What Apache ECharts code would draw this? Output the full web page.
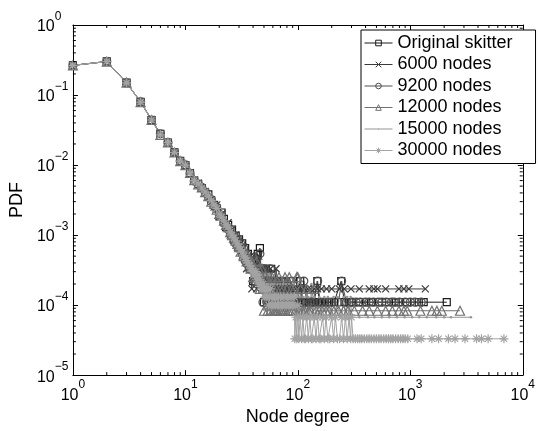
<!DOCTYPE html>
<html><head><meta charset="utf-8">
<script src="https://cdn.jsdelivr.net/npm/echarts@6/dist/echarts.min.js"></script>
<style>html,body{margin:0;padding:0;background:#fff}#c{width:538px;height:431px}</style>
</head><body><div id="c"></div>
<script>
const seriesNames = ['Original skitter','6000 nodes','9200 nodes','12000 nodes','15000 nodes','30000 nodes'];

const origSkitter = [[1,0.265],[2,0.302],[3,0.150],[4,0.080],[5,0.044],[6,0.028],[7,0.021],[8,0.0152],[9,0.0115],[10,0.0100],[11,0.0077],[12,0.0060],[13,0.0054],[14,0.0047],[15,0.0040],[16,0.0038],[17,0.0031],[18,0.0027],[19,0.0024],[20,0.0019],[21,0.0021],[22,0.0017],[23,0.0013],[24,0.0014],[25,0.0011],[26,0.0012],[27,0.00087],[28,0.00098],[29,0.00076],[30,0.00087],[31,0.00065],[32,0.00076],[33,0.00054],[34,0.00065],[35,0.00043],[36,0.00054],[37,0.00043],[38,0.00033],[39,0.00043],[40,0.00022],[41,0.00033],[42,0.00043],[43,0.00033],[44,0.00054],[45,0.00033],[46,0.00065],[47,0.00033],[48,0.00022],[49,0.00033],[50,0.00011],[51,0.00022],[52,0.00033],[53,0.00022],[55,0.00011],[56,0.00022],[58,0.00033],[60,0.00011],[62,0.00022],[63,0.00011],[65,0.00022],[67,0.00011],[68,0.00022],[70,0.00011],[72,0.00022],[75,0.00011],[77,0.00022],[80,0.00011],[83,0.00011],[86,0.00022],[90,0.00011],[95,0.00011],[100,0.00011],[105,0.00022],[110,0.00011],[118,0.00011],[125,0.00011],[132,0.00011],[140,0.00011],[149,0.00022],[155,0.00011],[165,0.00011],[175,0.00011],[190,0.00011],[210,0.00011],[243,0.00022],[260,0.00011],[287,0.00011],[300,0.00011],[352,0.00011],[403,0.00011],[446,0.00011],[527,0.00011],[647,0.00011],[741,0.00011],[792,0.00011],[938,0.00011],[1188,0.00011],[1315,0.00011],[2110,0.00011]];

const nodes6000 = [[1,0.266],[2,0.300],[3,0.148],[4,0.079],[5,0.045],[6,0.027],[7,0.021],[8,0.0150],[9,0.0113],[10,0.0099],[11,0.0078],[12,0.0061],[13,0.0055],[14,0.0047],[15,0.0042],[16,0.0035],[17,0.0032],[18,0.0025],[19,0.0027],[20,0.0018],[21,0.0020],[22,0.0015],[23,0.0013],[24,0.0015],[25,0.0010],[26,0.0012],[27,0.00083],[28,0.0010],[29,0.00067],[30,0.00083],[31,0.00067],[32,0.0005],[33,0.00067],[34,0.0005],[35,0.00033],[36,0.0005],[37,0.00033],[38,0.0005],[39,0.00017],[40,0.00033],[41,0.0005],[42,0.00033],[43,0.00017],[44,0.00033],[45,0.0005],[46,0.00033],[48,0.00017],[49,0.00033],[50,0.00017],[52,0.00033],[53,0.00017],[55,0.00017],[57,0.00033],[58,0.00017],[60,0.00017],[62,0.00017],[64,0.00033],[66,0.00017],[69,0.00017],[71,0.00017],[74,0.00017],[78,0.00017],[82,0.00017],[85,0.00017],[90,0.00017],[96,0.00017],[102,0.00017],[108,0.00017],[115,0.00017],[123,0.00017],[130,0.00017],[140,0.00017],[150,0.00017],[162,0.00017],[180,0.00017],[200,0.00017],[234,0.00017],[259,0.00017],[297,0.00017],[352,0.00017],[431,0.00017],[475,0.00017],[510,0.00017],[604,0.00017],[792,0.00017],[877,0.00017],[971,0.00017],[1360,0.00017]];

const nodes9200 = [[1,0.264],[2,0.301],[3,0.149],[4,0.080],[5,0.044],[6,0.028],[7,0.021],[8,0.0151],[9,0.0114],[10,0.0101],[11,0.0076],[12,0.0059],[13,0.0053],[14,0.0048],[15,0.0041],[16,0.0035],[17,0.0032],[18,0.0026],[19,0.0025],[20,0.0020],[21,0.0019],[22,0.0015],[23,0.0014],[24,0.0012],[25,0.0012],[26,0.00098],[27,0.00098],[28,0.00076],[29,0.00087],[30,0.00065],[31,0.00076],[32,0.00054],[33,0.00065],[34,0.00043],[35,0.00054],[36,0.00043],[37,0.00033],[38,0.00043],[39,0.00033],[40,0.00043],[41,0.00022],[42,0.00033],[43,0.00043],[44,0.00022],[45,0.00033],[46,0.00054],[47,0.00022],[48,0.00033],[49,0.00011],[50,0.00022],[51,0.00033],[53,0.00011],[54,0.00022],[56,0.00011],[57,0.00033],[59,0.00022],[61,0.00011],[62,0.00022],[64,0.00011],[66,0.00022],[69,0.00011],[71,0.00022],[73,0.00011],[76,0.00011],[79,0.00022],[82,0.00011],[85,0.00011],[88,0.00022],[92,0.00011],[97,0.00011],[102,0.00011],[107,0.00011],[113,0.00022],[120,0.00011],[128,0.00011],[136,0.00011],[150,0.00022],[158,0.00011],[170,0.00011],[185,0.00011],[200,0.00011],[230,0.00011],[245,0.00022],[270,0.00011],[305,0.00011],[330,0.00011],[360,0.00011],[398,0.00011],[430,0.00011],[470,0.00011],[520,0.00011],[560,0.00011],[610,0.00011],[680,0.00011],[720,0.00011],[800,0.00011],[900,0.00011],[1000,0.00011],[1100,0.00011],[1250,0.00011]];

const nodes12000 = [[1,0.265],[2,0.300],[3,0.150],[4,0.079],[5,0.044],[6,0.027],[7,0.021],[8,0.0151],[9,0.0114],[10,0.0100],[11,0.0077],[12,0.0061],[13,0.0053],[14,0.0048],[15,0.0041],[16,0.0036],[17,0.0030],[18,0.0028],[19,0.0023],[20,0.0020],[21,0.0019],[22,0.0016],[23,0.0014],[24,0.0013],[25,0.0011],[26,0.0010],[27,0.00092],[28,0.00083],[29,0.00075],[30,0.00067],[31,0.00058],[32,0.00067],[33,0.0005],[34,0.00058],[35,0.00042],[36,0.0005],[37,0.00042],[38,0.00033],[39,0.00042],[40,0.00025],[41,0.00033],[42,0.00025],[43,0.00042],[44,0.00025],[45,0.00033],[46,0.00017],[47,0.00025],[48,0.00033],[49,0.00017],[50,0.000083],[51,0.00025],[52,0.00017],[53,0.00025],[54,0.000083],[55,0.00017],[56,0.00025],[57,0.000083],[58,0.00017],[59,0.00025],[60,0.000083],[61,0.00017],[62,0.000083],[63,0.00025],[64,0.000083],[65,0.00017],[66,0.000083],[68,0.00025],[69,0.000083],[70,0.00017],[72,0.000083],[74,0.00017],[75,0.000083],[77,0.00025],[78,0.000083],[80,0.00017],[82,0.000083],[84,0.00025],[85,0.000083],[88,0.00017],[90,0.000083],[93,0.00017],[95,0.000083],[98,0.00025],[100,0.00025],[103,0.000083],[106,0.00017],[110,0.000083],[115,0.000083],[120,0.00017],[125,0.000083],[130,0.000083],[138,0.00017],[145,0.000083],[155,0.000083],[165,0.000083],[178,0.000083],[190,0.000083],[210,0.000083],[230,0.000083],[255,0.000083],[280,0.000083],[318,0.000083],[376,0.000083],[431,0.000083],[510,0.000083],[604,0.000083],[692,0.000083],[792,0.000083],[877,0.000083],[938,0.000083],[1230,0.000083],[1556,0.000083],[1722,0.000083],[1906,0.000083],[2768,0.000083]];

const nodes15000 = [[1,0.265],[2,0.301],[3,0.149],[4,0.080],[5,0.044],[6,0.027],[7,0.021],[8,0.0150],[9,0.0115],[10,0.0100],[11,0.0077],[12,0.0060],[13,0.0055],[14,0.0046],[15,0.0041],[16,0.0036],[17,0.0031],[18,0.0027],[19,0.0024],[20,0.0020],[21,0.0018],[22,0.0016],[23,0.0014],[24,0.0013],[25,0.0011],[26,0.0010],[27,0.00093],[28,0.00087],[29,0.00073],[30,0.00067],[31,0.0006],[32,0.00053],[33,0.0006],[34,0.00047],[35,0.0004],[36,0.00047],[37,0.0004],[38,0.00033],[39,0.0004],[40,0.00033],[41,0.00027],[42,0.00033],[43,0.00027],[44,0.0002],[45,0.00027],[46,0.0002],[47,0.00027],[48,0.0002],[49,0.00013],[50,0.0002],[51,0.00027],[52,0.00013],[53,0.0002],[54,0.00013],[55,0.0002],[56,0.00027],[57,0.00013],[58,0.0002],[59,0.00013],[60,0.0002],[61,0.00013],[62,0.0002],[63,0.00013],[65,0.00013],[66,0.0002],[67,0.00013],[68,0.00013],[70,0.0002],[71,0.00013],[72,0.00013],[74,0.0002],[75,0.00013],[77,0.00013],[78,0.0002],[80,0.00013],[82,0.00013],[84,0.0002],[86,0.00013],[88,0.00013],[90,0.00013],[92,0.0002],[94,0.000067],[96,0.00013],[98,0.000067],[100,0.0002],[102,0.000067],[105,0.00013],[108,0.000067],[111,0.00013],[114,0.000067],[117,0.00013],[120,0.000067],[124,0.00013],[128,0.000067],[132,0.0002],[136,0.000067],[140,0.00013],[145,0.000067],[150,0.000067],[155,0.00013],[160,0.000067],[166,0.000067],[172,0.00013],[178,0.000067],[185,0.00013],[192,0.000067],[200,0.000067],[208,0.00013],[216,0.000067],[225,0.00013],[235,0.000067],[245,0.000067],[255,0.00013],[265,0.000067],[275,0.00013],[285,0.000067],[295,0.00013],[300,0.000067],[352,0.000067],[420,0.000067],[480,0.000067],[560,0.000067],[650,0.000067],[760,0.000067],[890,0.000067],[1040,0.000067],[1200,0.000067],[1400,0.000067],[1700,0.000067],[2000,0.000067],[2300,0.000067],[3460,0.000067]];

const nodes30000 = [[1,0.265],[2,0.301],[3,0.149],[4,0.079],[5,0.044],[6,0.027],[7,0.021],[8,0.0151],[9,0.0114],[10,0.0100],[11,0.0077],[12,0.0060],[13,0.0054],[14,0.0047],[15,0.0041],[16,0.0036],[17,0.0031],[18,0.0027],[19,0.0024],[20,0.0020],[21,0.0018],[22,0.0016],[23,0.0014],[24,0.0013],[25,0.0011],[26,0.0010],[27,0.00091],[28,0.00083],[29,0.00075],[30,0.00068],[31,0.00062],[32,0.00057],[33,0.0005],[34,0.00047],[35,0.00043],[36,0.0004],[37,0.00037],[38,0.00033],[39,0.00033],[40,0.0003],[41,0.00027],[42,0.0003],[43,0.00023],[44,0.00027],[45,0.0002],[46,0.00023],[47,0.0002],[48,0.00017],[49,0.0002],[50,0.00017],[51,0.00013],[52,0.00017],[53,0.00013],[54,0.00017],[55,0.0001],[56,0.00013],[57,0.00017],[58,0.0001],[59,0.00013],[60,0.0001],[62,0.00013],[63,0.0001],[64,0.00013],[66,0.0001],[67,0.00013],[68,0.0001],[70,0.00013],[71,0.0001],[73,0.0001],[75,0.00013],[77,0.0001],[79,0.0001],[81,0.00013],[83,0.0001],[85,0.0001],[87,0.00013],[89,0.0001],[91,0.0001],[93,0.00013],[94,0.000033],[96,0.000067],[98,0.000033],[100,0.0001],[102,0.000033],[105,0.000067],[108,0.000033],[111,0.000067],[114,0.000033],[117,0.000033],[120,0.000067],[124,0.000033],[128,0.000067],[132,0.000033],[136,0.000033],[140,0.000067],[145,0.000033],[150,0.000067],[155,0.000033],[160,0.000033],[166,0.000067],[172,0.000033],[178,0.000067],[185,0.000033],[192,0.000033],[200,0.000067],[208,0.000033],[216,0.000067],[225,0.000033],[235,0.000033],[245,0.000067],[255,0.000033],[265,0.000067],[275,0.000033],[285,0.000067],[295,0.000033],[300,0.000067],[310,0.000033],[325,0.000033],[340,0.000033],[355,0.000033],[370,0.000033],[390,0.000033],[410,0.000033],[430,0.000033],[450,0.000033],[475,0.000033],[500,0.000033],[525,0.000033],[550,0.000033],[580,0.000033],[610,0.000033],[640,0.000033],[670,0.000033],[700,0.000033],[740,0.000033],[780,0.000033],[820,0.000033],[860,0.000033],[900,0.000033],[950,0.000033],[1148,0.000033],[1250,0.000033],[1556,0.000033],[1783,0.000033],[2183,0.000033],[2500,0.000033],[3064,0.000033],[3880,0.000033],[4295,0.000033],[4920,0.000033],[6800,0.000033]];

const xMinorTicks = [2,3,4,5,6,7,8,9,20,30,40,50,60,70,80,90,200,300,400,500,600,700,800,900,2000,3000,4000,5000,6000,7000,8000,9000];
const yMinorTicks = [2e-5,3e-5,4e-5,5e-5,6e-5,7e-5,8e-5,9e-5,2e-4,3e-4,4e-4,5e-4,6e-4,7e-4,8e-4,9e-4,2e-3,3e-3,4e-3,5e-3,6e-3,7e-3,8e-3,9e-3,0.02,0.03,0.04,0.05,0.06,0.07,0.08,0.09,0.2,0.3,0.4,0.5,0.6,0.7,0.8,0.9];

const FONT = 'Liberation Sans';
const colors = ['#1a1a1a','#3a3a3a','#505050','#717171','#959595','#a3a3a3'];
const symbols = [
  'rect',
  'path://M0,0L10,10M10,0L0,10',
  'circle',
  'triangle',
  'path://M0,0M12,12M6,4.7A1.3,1.3,0,1,1,6,7.3A1.3,1.3,0,1,1,6,4.7Z',
  'path://M5,0L5,10M0,5L10,5M1.5,1.5L8.5,8.5M8.5,1.5L1.5,8.5'
];
const symbolSizes = [7,7,8,9,12,9];
const dataSets = [origSkitter,nodes6000,nodes9200,nodes12000,nodes15000,nodes30000];

function supLabel(v){
  const e = Math.round(Math.log10(v));
  return '{b|10}{s|' + (e < 0 ? '\u2212' + (-e) : e) + '}';
}
const richLab = {
  b:{fontSize:16,fontFamily:FONT,color:'#000',verticalAlign:'bottom'},
  s:{fontSize:12,fontFamily:FONT,color:'#000',verticalAlign:'bottom',padding:[0,0,12,0]}
};

const lineSeries = dataSets.map((d,i)=>({
  name: seriesNames[i], type:'line', data:d, xAxisIndex:0, yAxisIndex:0,
  symbol: symbols[i], symbolSize: symbolSizes[i], showSymbol:true, showAllSymbol:true,
  lineStyle:{color:colors[i], width:1},
  itemStyle:{color: i===4 ? colors[i] : 'rgba(0,0,0,0)', borderColor:colors[i], borderWidth: i===4 ? 0 : 1.2},
  emphasis:{disabled:true}, silent:true, animation:false, z:2
}));

function tickSeriesX(){
  return {type:'custom', xAxisIndex:0, yAxisIndex:0, silent:true, animation:false, clip:false, z:3,
    data: xMinorTicks.map(v=>[v,1e-5]),
    renderItem:(params,api)=>{
      const cs = params.coordSys;
      const x = api.coord([api.value(0),1e-5])[0];
      const b = cs.y+cs.height, t = cs.y;
      return {type:'group',children:[
        {type:'line',shape:{x1:x,y1:b,x2:x,y2:b-3},style:{stroke:'#000',lineWidth:1}},
        {type:'line',shape:{x1:x,y1:t,x2:x,y2:t+3},style:{stroke:'#000',lineWidth:1}}]};
    }};
}
function tickSeriesY(){
  return {type:'custom', xAxisIndex:0, yAxisIndex:0, silent:true, animation:false, clip:false, z:3,
    data: yMinorTicks.map(v=>[1,v]),
    renderItem:(params,api)=>{
      const cs = params.coordSys;
      const y = api.coord([1,api.value(1)])[1];
      const l = cs.x, r = cs.x+cs.width;
      return {type:'group',children:[
        {type:'line',shape:{x1:l,y1:y,x2:l+3,y2:y},style:{stroke:'#000',lineWidth:1}},
        {type:'line',shape:{x1:r,y1:y,x2:r-3,y2:y},style:{stroke:'#000',lineWidth:1}}]};
    }};
}

const legendData = seriesNames.map((n,i)=>({
  name:n,
  itemStyle:{color: i===4 ? colors[i] : 'rgba(0,0,0,0)', borderColor:colors[i], borderWidth: i===4 ? 0 : 1},
  lineStyle:{color:colors[i], width:1}
}));

const axisLineStyle = {show:true, lineStyle:{color:'#000', width:1}};
const chart = echarts.init(document.getElementById('c'), null, {renderer:'canvas'});
chart.setOption({
  animation:false,
  backgroundColor:'#fff',
  grid:{left:71, right:13, top:25, bottom:48, containLabel:false},
  legend:{
    data: legendData, orient:'vertical', left:361, top:30,
    padding:[4,23,4,3], itemGap:3.5, itemWidth:28, itemHeight:7,
    backgroundColor:'#fff', borderColor:'#000', borderWidth:1, borderRadius:0,
    selectedMode:false, z:10,
    textStyle:{fontSize:18, fontFamily:FONT, color:'#000', lineHeight:18},
    lineStyle:{width:1},
    itemStyle:{borderWidth:1}
  },
  xAxis:[
    {type:'log', logBase:10, min:1, max:10000, position:'bottom',
     name:'Node degree', nameLocation:'middle', nameGap:27,
     nameTextStyle:{fontSize:18, fontFamily:FONT, color:'#000'},
     axisLine:axisLineStyle, axisTick:{show:true, inside:true, length:5, lineStyle:{color:'#000'}},
     splitLine:{show:false}, minorTick:{show:false},
     axisLabel:{formatter:supLabel, rich:richLab, margin:4}},
    {type:'log', logBase:10, min:1, max:10000, position:'top',
     axisLine:axisLineStyle, axisTick:{show:true, inside:true, length:5, lineStyle:{color:'#000'}},
     splitLine:{show:false}, axisLabel:{show:false}}
  ],
  yAxis:[
    {type:'log', logBase:10, min:1e-5, max:1, position:'left',
     name:'PDF', nameLocation:'middle', nameGap:42,
     nameTextStyle:{fontSize:18, fontFamily:FONT, color:'#000'},
     axisLine:axisLineStyle, axisTick:{show:true, inside:true, length:5, lineStyle:{color:'#000'}},
     splitLine:{show:false},
     axisLabel:{formatter:supLabel, rich:richLab, align:'left', margin:36, padding:[0,0,4,0]}},
    {type:'log', logBase:10, min:1e-5, max:1, position:'right',
     axisLine:axisLineStyle, axisTick:{show:true, inside:true, length:5, lineStyle:{color:'#000'}},
     splitLine:{show:false}, axisLabel:{show:false}}
  ],
  series: lineSeries.concat([tickSeriesX(), tickSeriesY()])
});
</script>
</body></html>
